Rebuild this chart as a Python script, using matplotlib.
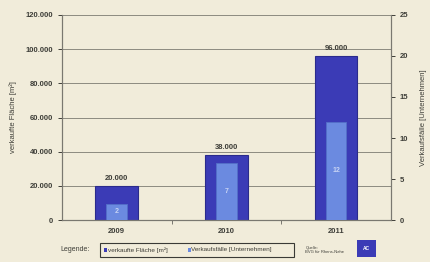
import numpy as np
import matplotlib.pyplot as plt
from matplotlib.patches import Rectangle

years = ["2009", "2010", "2011"]
flaeche = [20000, 38000, 96000]   # verkaufte Fläche [m²]
faelle = [2, 7, 12]               # Verkaufsfälle [Unternehmen]
area_labels = ["20.000", "38.000", "96.000"]
left_ticks = [0, 20000, 40000, 60000, 80000, 100000, 120000]
left_ticklabels = ["0", "20.000", "40.000", "60.000", "80.000", "100.000", "120.000"]
right_ticks = [0, 5, 10, 15, 20, 25]

bg = "#f1ecda"
dark = "#3b3bb6"
light = "#6b8ae0"
txt = "#3e3e38"

plt.rcParams['font.family'] = ['Liberation Sans', 'DejaVu Sans']
plt.rcParams['font.weight'] = 'bold'

fig = plt.figure(figsize=(4.3, 2.62), dpi=100, facecolor=bg)
ax = fig.add_axes([0.144, 0.160, 0.765, 0.783])
ax.set_facecolor(bg)
ax2 = ax.twinx()

x = np.arange(len(years))
ax.bar(x, flaeche, width=0.39, color=dark, edgecolor="#2b2b8c", linewidth=0.8, zorder=2)
ax2.bar(x, faelle, width=0.19, color=light, edgecolor="#5470c8", linewidth=0.6, zorder=3)

for xi, v, lab in zip(x, flaeche, area_labels):
    ax.text(xi, v + 2500, lab, ha="center", va="bottom", fontsize=5.5, color=txt)
for xi, v in zip(x, faelle):
    ax2.text(xi, v / 2, str(v), ha="center", va="center", fontsize=5, color="#c8d4f4")

ax.set_xlim(-0.5, 2.5)
ax.set_ylim(0, 120000)
ax2.set_ylim(0, 25)
ax.set_yticks(left_ticks)
ax.set_yticklabels(left_ticklabels)
ax2.set_yticks(right_ticks)
ax.set_xticks(x)
ax.set_xticklabels(years)
ax.set_xticks([0.5, 1.5], minor=True)
ax.yaxis.grid(True, color="#8c8a80", linewidth=0.7, zorder=0)
ax.set_axisbelow(True)

for a in (ax, ax2):
    a.tick_params(labelsize=5.5, colors=txt, length=3, width=0.7)
    for s in a.spines.values():
        s.set_color("#7a7870")
        s.set_linewidth(0.8)
ax.tick_params(axis="x", which="major", length=0, pad=6)
ax.tick_params(axis="x", which="minor", length=3, width=0.7, color="#7a7870")
ax.spines["top"].set_visible(False)
ax2.spines["top"].set_visible(False)

ax.set_ylabel("verkaufte Fläche [m²]", fontsize=5.5, color=txt, labelpad=6)
ax2.set_ylabel("Verkaufsfälle [Unternehmen]", fontsize=5.5, color=txt, labelpad=8)

# legend row
fig.text(0.140, 0.047, "Legende:", fontsize=5, color=txt, va="center", weight="normal")
fig.patches.append(Rectangle((0.233, 0.018), 0.450, 0.056, transform=fig.transFigure,
                             facecolor="none", edgecolor="#3a3a36", linewidth=0.8))
fig.patches.append(Rectangle((0.242, 0.040), 0.007, 0.013, transform=fig.transFigure,
                             facecolor=dark, edgecolor="none"))
fig.text(0.250, 0.047, "verkaufte Fläche [m²]", fontsize=4.6, color=txt, va="center",
         weight="normal")
fig.patches.append(Rectangle((0.437, 0.040), 0.007, 0.013, transform=fig.transFigure,
                             facecolor=light, edgecolor="none"))
fig.text(0.445, 0.047, "Verkaufsfälle [Unternehmen]", fontsize=4.6, color=txt, va="center",
         weight="normal")
fig.text(0.710, 0.047, "Quelle:\nBVG für Rhens-Nahe", fontsize=3, color=txt, va="center",
         linespacing=1.0, weight="normal")
fig.patches.append(Rectangle((0.830, 0.018), 0.045, 0.065, transform=fig.transFigure,
                             facecolor=dark, edgecolor="none"))
fig.text(0.852, 0.050, "AC", fontsize=3.5, color="white", ha="center", va="center")

fig.savefig("out.png", dpi=100, facecolor=bg)
